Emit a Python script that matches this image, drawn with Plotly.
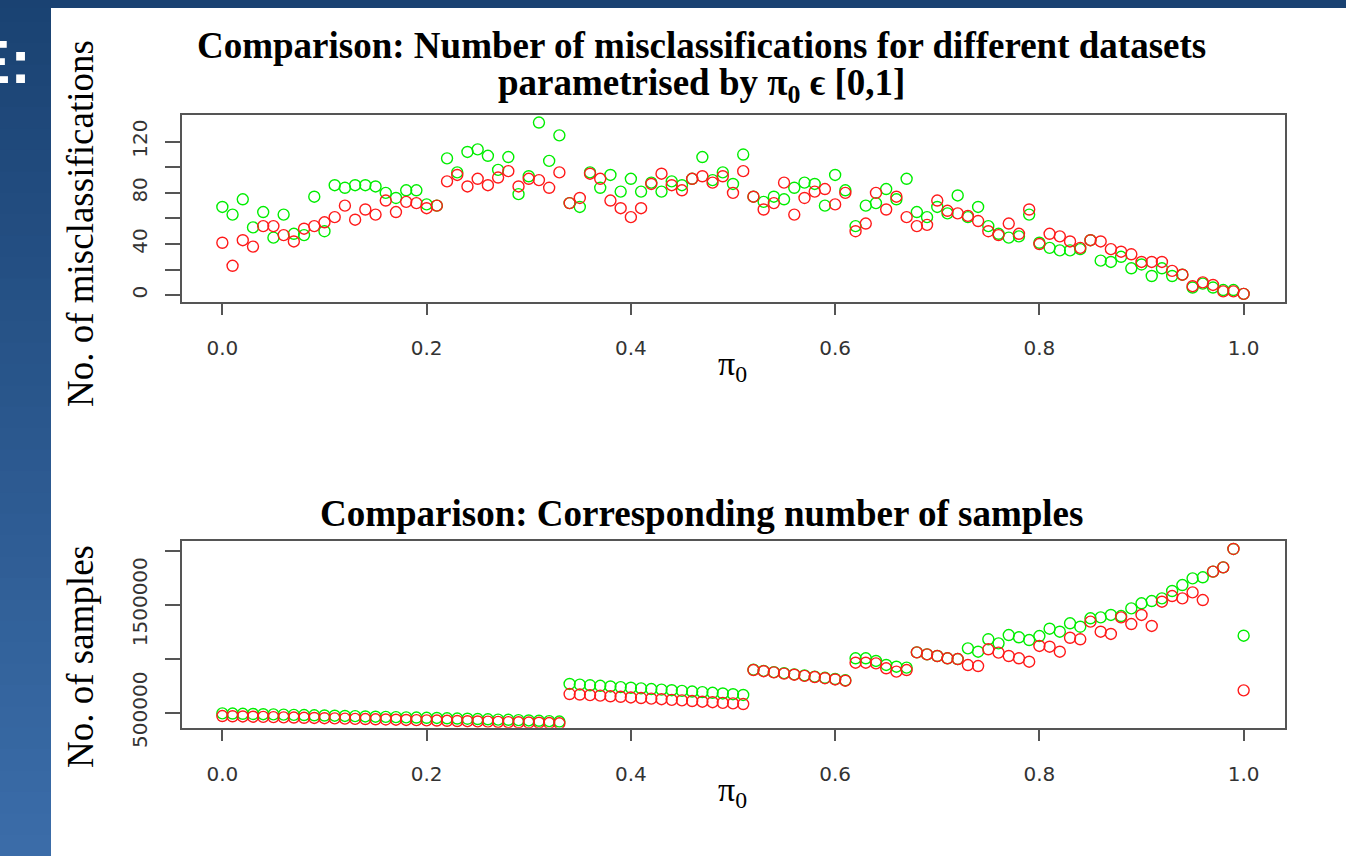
import plotly.graph_objects as go

W, H = 1346, 856

# ---------------- data ----------------
pi0 = [i / 100 for i in range(101)]

miscl_green = [69, 63, 75, 53, 65, 45, 63, 48, 47, 77, 50, 86, 84, 86, 86, 85, 80, 76, 82, 82,
               71, 70, 107, 96, 112, 114, 109, 98, 108, 79, 93, 135, 105, 125, 72, 69, 96, 84, 94, 81,
               91, 81, 88, 81, 89, 86, 91, 108, 90, 96, 87, 110, 77, 73, 77, 75, 84, 88, 87, 70,
               94, 82, 54, 70, 72, 83, 75, 91, 65, 61, 69, 64, 78, 61, 69, 54, 48, 45, 46, 63,
               41, 37, 35, 35, 36, 43, 27, 26, 30, 21, 24, 15, 21, 15, 16, 6, 9, 6, 4, 4, 1]
miscl_red = [41, 23, 43, 38, 54, 54, 47, 42, 52, 54, 57, 61, 70, 59, 67, 63, 74, 65, 73, 72,
             68, 70, 89, 94, 85, 91, 86, 92, 97, 85, 91, 90, 84, 96, 72, 76, 95, 91, 74, 68,
             61, 68, 87, 95, 86, 82, 91, 93, 88, 93, 80, 97, 77, 67, 72, 88, 63, 76, 81, 83,
             71, 80, 50, 56, 80, 67, 77, 61, 54, 55, 74, 66, 64, 62, 58, 50, 47, 56, 48, 67,
             40, 48, 46, 42, 37, 43, 42, 36, 34, 32, 26, 26, 26, 19, 16, 7, 10, 8, 3, 3, 1]

samples_green = [494000, 492000, 490000, 488000, 486000, 484000, 482000, 480000, 478000, 476000,
                 474000, 472000, 470000, 468000, 465000, 463000, 461000, 459000, 457000, 455000,
                 453000, 451000, 448000, 446000, 444000, 441000, 439000, 436000, 434000, 431000,
                 428000, 425000, 422000, 418000,
                 766000, 760000, 754000, 749000, 743000, 737000, 731000, 725000, 719000, 714000,
                 708000, 702000, 696000, 690000, 684000, 678000, 671000, 664000,
                 898000, 887000, 876000, 866000, 855000, 845000, 834000, 823000, 812000, 800000,
                 1004000, 1004000, 979000, 942000, 926000, 917000,
                 1059000, 1040000, 1025000, 1004000, 997000,
                 1096000, 1065000, 1180000, 1142000, 1219000, 1198000, 1173000, 1210000, 1278000,
                 1250000, 1328000, 1296000, 1374000, 1383000, 1405000, 1395000, 1466000, 1513000,
                 1534000, 1559000, 1627000, 1682000, 1744000, 1754000, 1806000, 1846000, 2016000,
                 1213000]
samples_red = [469000, 467000, 465000, 463000, 461000, 459000, 457000, 455000, 453000, 451000,
               449000, 447000, 445000, 443000, 441000, 439000, 437000, 435000, 433000, 431000,
               429000, 427000, 425000, 423000, 421000, 419000, 417000, 415000, 413000, 411000,
               409000, 407000, 404000, 402000,
               673000, 668000, 663000, 658000, 652000, 647000, 641000, 636000, 630000, 625000,
               619000, 614000, 608000, 602000, 597000, 591000, 586000, 580000,
               895000, 884000, 873000, 862000, 852000, 841000, 830000, 819000, 808000, 796000,
               963000, 963000, 957000, 911000, 880000, 895000,
               1059000, 1040000, 1025000, 1004000, 997000,
               941000, 932000, 1087000, 1056000, 1025000, 1004000, 972000, 1118000, 1111000,
               1065000, 1194000, 1180000, 1343000, 1250000, 1229000, 1383000, 1321000, 1405000,
               1303000, 1528000, 1580000, 1559000, 1614000, 1543000, 1806000, 1846000, 2016000,
               707000]

x_tickvals = [0.0, 0.2, 0.4, 0.6, 0.8, 1.0]
x_ticktext = ["0.0", "0.2", "0.4", "0.6", "0.8", "1.0"]
y1_tickvals = [0, 40, 80, 120]
y1_ticktext = ["0", "40", "80", "120"]
y1_unlabelled = [20, 60, 100]
y2_tickvals = [500000, 1500000]
y2_ticktext = ["500000", "1500000"]
y2_unlabelled = [1000000, 2000000]

title1_line1 = "Comparison: Number of misclassifications for different datasets"
title1_line2 = "parametrised by π<sub>0</sub> ϵ [0,1]"
title2 = "Comparison: Corresponding number of samples"
ylab1 = "No. of misclassifications"
ylab2 = "No. of samples"
xlab = "π<sub>0</sub>"

GREEN = "#00ee00"
RED = "#ff1a1a"


def px(x):
    return x / W


def py(y):
    return 1 - y / H


fig = go.Figure()
marker_common = dict(symbol="circle-open", size=11, line=dict(width=1.4))
fig.add_trace(go.Scatter(x=pi0, y=miscl_green, mode="markers", xaxis="x", yaxis="y",
                         marker=dict(color=GREEN, **marker_common), showlegend=False))
fig.add_trace(go.Scatter(x=pi0, y=miscl_red, mode="markers", xaxis="x", yaxis="y",
                         marker=dict(color=RED, **marker_common), showlegend=False))
fig.add_trace(go.Scatter(x=pi0, y=samples_green, mode="markers", xaxis="x2", yaxis="y2",
                         marker=dict(color=GREEN, **marker_common), showlegend=False))
fig.add_trace(go.Scatter(x=pi0, y=samples_red, mode="markers", xaxis="x2", yaxis="y2",
                         marker=dict(color=RED, **marker_common), showlegend=False))

tickfont = dict(family="DejaVu Sans", size=20, color="#333333")
axis_common = dict(showline=True, linecolor="#555555", linewidth=1.5, mirror=True,
                   showgrid=False, zeroline=False, ticks="outside", tickcolor="#555555",
                   tickwidth=1.5, tickfont=tickfont, automargin=False)

dom_x = [px(181.5), px(1284.5)]
fig.update_layout(
    width=W, height=H, margin=dict(l=0, r=0, t=0, b=0, pad=0, autoexpand=False),
    paper_bgcolor="white", plot_bgcolor="white",
    xaxis=dict(domain=dom_x, range=[-0.04, 1.04], anchor="y", tickvals=x_tickvals,
               ticktext=x_ticktext, ticklen=12, ticklabelstandoff=16, **axis_common),
    yaxis=dict(domain=[py(301.7), py(115)], range=[-5.1, 140.9], anchor="x",
               tickvals=y1_tickvals, ticktext=y1_ticktext, tickangle=-90, ticklen=15,
               ticklabelstandoff=10,
               minor=dict(tickvals=y1_unlabelled, ticks="outside", ticklen=15,
                          tickwidth=1.5, tickcolor="#555555", showgrid=False),
               **axis_common),
    xaxis2=dict(domain=dom_x, range=[-0.04, 1.04], anchor="y2", tickvals=x_tickvals,
                ticktext=x_ticktext, ticklen=12, ticklabelstandoff=16, **axis_common),
    yaxis2=dict(domain=[py(727.7), py(541)], range=[361000, 2090000], anchor="x2",
                tickvals=y2_tickvals, ticktext=y2_ticktext, tickangle=-90, ticklen=15,
                ticklabelstandoff=10,
                minor=dict(tickvals=y2_unlabelled, ticks="outside", ticklen=15,
                           tickwidth=1.5, tickcolor="#555555", showgrid=False),
                **axis_common),
)

# slide background strips (left gradient band + top band)
c0 = (0x1a, 0x42, 0x72)
c1 = (0x3b, 0x6d, 0xa9)
n = 40
shapes = []
for i in range(n):
    t = (i + 0.5) / n
    col = "rgb(%d,%d,%d)" % tuple(round(a + (b - a) * t) for a, b in zip(c0, c1))
    shapes.append(dict(type="rect", xref="paper", yref="paper", x0=0, x1=px(51),
                       y0=max(0, py(H * (i + 1) / n + 2)), y1=py(H * i / n), fillcolor=col,
                       line=dict(width=0), layer="above"))
shapes.append(dict(type="rect", xref="paper", yref="paper", x0=0, x1=1, y0=py(8), y1=1,
                   fillcolor="rgb(26,66,114)", line=dict(width=0), layer="above"))
fig.update_layout(shapes=shapes)

serif = "Liberation Serif"
ann = []
ann.append(dict(text="<b>E:</b>", x=px(33), y=py(62), xref="paper", yref="paper",
                xanchor="right", yanchor="middle", showarrow=False,
                font=dict(family="Liberation Sans", size=62, color="white")))
ann.append(dict(text="<b>" + title1_line1 + "</b>", x=px(701), y=py(46), xref="paper",
                yref="paper", xanchor="center", yanchor="middle", showarrow=False,
                font=dict(family=serif, size=37, color="black")))
ann.append(dict(text="<b>" + title1_line2 + "</b>", x=px(701), y=py(86), xref="paper",
                yref="paper", xanchor="center", yanchor="middle", showarrow=False,
                font=dict(family=serif, size=37, color="black")))
ann.append(dict(text="<b>" + title2 + "</b>", x=px(701), y=py(513), xref="paper",
                yref="paper", xanchor="center", yanchor="middle", showarrow=False,
                font=dict(family=serif, size=37, color="black")))
ann.append(dict(text=ylab1, x=px(80), y=py(224), xref="paper", yref="paper", textangle=-90,
                xanchor="center", yanchor="middle", showarrow=False,
                font=dict(family=serif, size=37, color="black")))
ann.append(dict(text=ylab2, x=px(80), y=py(657), xref="paper", yref="paper", textangle=-90,
                xanchor="center", yanchor="middle", showarrow=False,
                font=dict(family=serif, size=37, color="black")))
ann.append(dict(text=xlab, x=px(733), y=py(366), xref="paper", yref="paper",
                xanchor="center", yanchor="middle", showarrow=False,
                font=dict(family=serif, size=34, color="black")))
ann.append(dict(text=xlab, x=px(733), y=py(792), xref="paper", yref="paper",
                xanchor="center", yanchor="middle", showarrow=False,
                font=dict(family=serif, size=34, color="black")))
fig.update_layout(annotations=ann)

fig.write_html("out.html", config={"displayModeBar": False},
               post_script="document.body.style.margin='0';document.body.style.overflow='hidden';")
